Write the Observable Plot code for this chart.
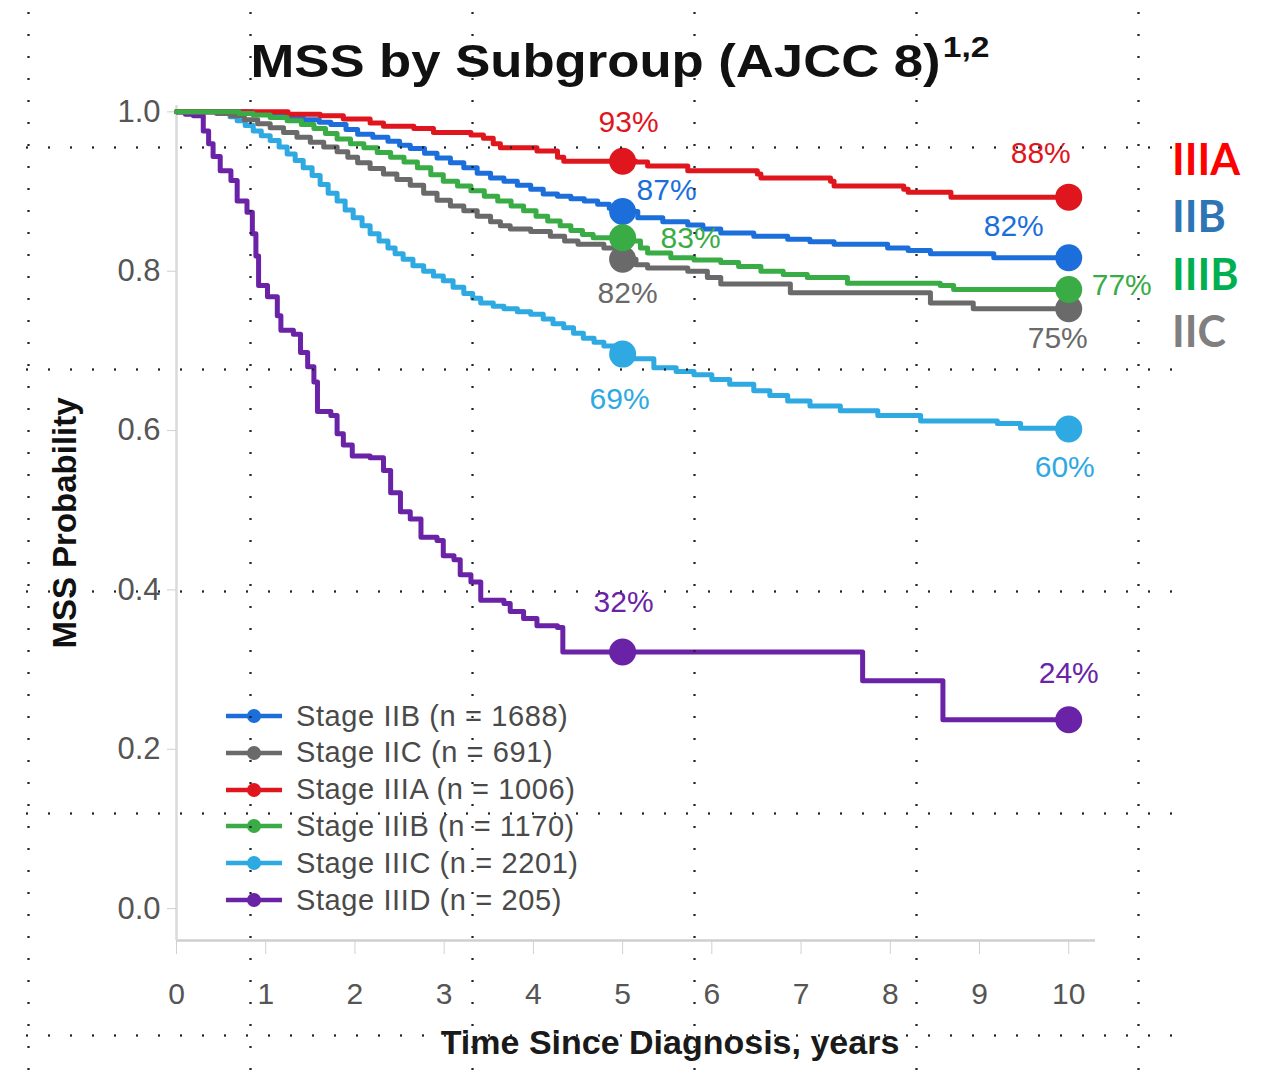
<!DOCTYPE html>
<html>
<head>
<meta charset="utf-8">
<script src="https://cdn.jsdelivr.net/npm/d3@7"></script>
<script src="https://cdn.jsdelivr.net/npm/@observablehq/plot@0.6"></script>
<style>
  html, body { margin: 0; padding: 0; background: #fff; }
  #page { position: relative; width: 1261px; height: 1081px; overflow: hidden; font-family: "Liberation Sans", Arial, Helvetica, sans-serif; }
  #title { position: absolute; left: 0; top: 37px; width: 1240px; text-align: center; font-size: 47px; line-height: 47px; font-weight: bold; color: #111; transform: scaleX(1.12); transform-origin: 620px 0; white-space: nowrap; }
  #title .sup { font-size: 30px; position: relative; top: -20px; margin-left: 2px; }
  #chart { position: absolute; left: 0; top: 95px; }
  #legend { position: absolute; left: 0; top: 0; }
  .lg-row { position: absolute; left: 226px; height: 36px; display: flex; align-items: center; }
  .lg-row span { margin-left: 14px; font-size: 29px; letter-spacing: 0.6px; color: #4a4a4a; white-space: nowrap; }
  .side { position: absolute; left: 1172px; font-family: Lato, "Open Sans", sans-serif; font-weight: 700; font-size: 43px; line-height: 43px; }
  .vgrid { position: absolute; top: 0; width: 3px; height: 1081px; background-image: radial-gradient(circle at center, #222 0.9px, transparent 1.5px); background-size: 3px 22px; background-position: 0 2px; pointer-events: none; }
  .hgrid { position: absolute; left: 16px; width: 1172px; height: 3px; background-image: radial-gradient(circle at center, #222 0.9px, transparent 1.5px); background-size: 22px 3px; background-position: 0 0; pointer-events: none; }
</style>
</head>
<body>
<div id="page">
  <div id="title">MSS by Subgroup (AJCC 8)<span class="sup">1,2</span></div>
  <div id="chart"></div>
  <div id="legend"></div>
  <div id="sidelabels"></div>
  <div id="grid"></div>
</div>
<script>
// ---------------- data ----------------
const stages = ["IIB", "IIC", "IIIA", "IIIB", "IIIC", "IIID"];
const stageN = [1688, 691, 1006, 1170, 2201, 205];
const fiveYearLabels = [87, 82, 93, 83, 69, 32];
const tenYearLabels = [82, 75, 88, 77, 60, 24];
const markTimes = [5, 10];
const xTicks = [0, 1, 2, 3, 4, 5, 6, 7, 8, 9, 10];
const yTicks = [0, 0.2, 0.4, 0.6, 0.8, 1.0];
const sideLabels = ["IIIA", "IIB", "IIIB", "IIC"];

// Kaplan–Meier steps: [years, probability]
const curveIIB = [[0,1],[0.68,1],[0.85,0.998],[1.05,0.996],[1.25,0.993],[1.42,0.99],[1.6,0.987],[1.73,0.984],[1.9,0.978],[2.03,0.972],[2.2,0.968],[2.37,0.963],[2.5,0.958],[2.62,0.954],[2.78,0.948],[2.92,0.942],[3.07,0.936],[3.22,0.93],[3.37,0.923],[3.52,0.917],[3.67,0.913],[3.82,0.908],[3.97,0.903],[4.11,0.897],[4.27,0.894],[4.42,0.891],[4.57,0.888],[4.72,0.884],[4.85,0.879],[4.95,0.875],[5.17,0.867],[5.45,0.862],[5.73,0.858],[5.9,0.853],[6.1,0.848],[6.47,0.844],[6.85,0.84],[7.1,0.837],[7.37,0.834],[7.97,0.829],[8.2,0.826],[8.45,0.822],[9.16,0.817],[10,0.817]];
const curveIIC = [[0,1],[0.3,1],[0.45,0.998],[0.61,0.995],[0.76,0.99],[0.91,0.985],[1.05,0.98],[1.2,0.974],[1.35,0.968],[1.5,0.962],[1.65,0.956],[1.8,0.95],[1.92,0.943],[2.03,0.936],[2.17,0.929],[2.32,0.922],[2.47,0.915],[2.62,0.908],[2.77,0.898],[2.92,0.889],[3.07,0.882],[3.22,0.876],[3.37,0.869],[3.52,0.862],[3.63,0.857],[3.74,0.853],[3.97,0.85],[4.19,0.844],[4.35,0.838],[4.5,0.834],[4.79,0.829],[4.92,0.82],[5.0,0.815],[5.15,0.808],[5.28,0.804],[5.73,0.8],[5.95,0.792],[6.1,0.784],[6.88,0.773],[8.45,0.76],[8.93,0.753],[10,0.753]];
const curveIIIA = [[0,1],[1.22,1],[1.25,0.997],[1.61,0.995],[1.87,0.991],[2.17,0.986],[2.32,0.982],[2.66,0.979],[2.88,0.974],[3.3,0.971],[3.44,0.967],[3.55,0.96],[3.63,0.955],[4.04,0.951],[4.27,0.943],[4.34,0.938],[5.15,0.937],[5.28,0.932],[5.73,0.926],[6.51,0.922],[6.55,0.917],[7.33,0.913],[7.37,0.907],[8.15,0.903],[8.2,0.899],[8.68,0.893],[10,0.893]];
const curveIIIB = [[0,1],[0.49,1],[0.7,0.998],[0.86,0.996],[1.05,0.993],[1.24,0.989],[1.4,0.984],[1.54,0.979],[1.67,0.973],[1.8,0.966],[1.95,0.96],[2.1,0.955],[2.25,0.949],[2.4,0.943],[2.55,0.937],[2.7,0.93],[2.85,0.921],[2.99,0.913],[3.15,0.907],[3.3,0.901],[3.45,0.894],[3.6,0.888],[3.75,0.882],[3.89,0.876],[4.03,0.869],[4.16,0.863],[4.3,0.857],[4.42,0.851],[4.55,0.846],[4.67,0.842],[5.09,0.838],[5.2,0.829],[5.28,0.823],[5.54,0.817],[5.8,0.814],[6.1,0.811],[6.3,0.806],[6.55,0.8],[6.8,0.796],[7.07,0.792],[7.52,0.785],[8.56,0.782],[8.71,0.777],[10,0.777]];
const curveIIIC = [[0,1],[0.49,1],[0.6,0.994],[0.68,0.989],[0.77,0.983],[0.86,0.976],[0.95,0.97],[1.05,0.964],[1.15,0.956],[1.24,0.947],[1.33,0.939],[1.42,0.93],[1.52,0.92],[1.61,0.909],[1.7,0.898],[1.8,0.888],[1.89,0.877],[1.98,0.867],[2.08,0.857],[2.17,0.847],[2.27,0.838],[2.37,0.829],[2.45,0.822],[2.54,0.815],[2.65,0.807],[2.77,0.8],[2.88,0.794],[2.99,0.788],[3.1,0.78],[3.22,0.772],[3.32,0.766],[3.41,0.76],[3.55,0.756],[3.67,0.753],[3.82,0.749],[3.97,0.746],[4.11,0.74],[4.22,0.734],[4.34,0.729],[4.45,0.722],[4.56,0.716],[4.68,0.711],[4.79,0.706],[4.9,0.7],[5.0,0.696],[5.12,0.69],[5.35,0.679],[5.6,0.674],[5.8,0.67],[6.0,0.664],[6.2,0.658],[6.47,0.65],[6.65,0.644],[6.85,0.637],[7.1,0.631],[7.44,0.625],[7.86,0.619],[8.34,0.612],[9.2,0.609],[9.46,0.603],[10,0.602]];
const curveIIID = [[0,1],[0.1,0.997],[0.19,0.995],[0.3,0.976],[0.36,0.96],[0.41,0.944],[0.49,0.926],[0.61,0.914],[0.68,0.888],[0.79,0.874],[0.85,0.847],[0.89,0.819],[0.92,0.782],[1.02,0.768],[1.13,0.744],[1.17,0.726],[1.31,0.721],[1.39,0.698],[1.47,0.68],[1.54,0.661],[1.58,0.624],[1.73,0.619],[1.8,0.596],[1.87,0.582],[1.97,0.568],[2.17,0.566],[2.32,0.55],[2.4,0.522],[2.51,0.498],[2.62,0.489],[2.74,0.466],[2.92,0.462],[2.99,0.443],[3.11,0.438],[3.18,0.419],[3.3,0.41],[3.41,0.387],[3.67,0.383],[3.74,0.373],[3.89,0.364],[4.04,0.355],[4.27,0.353],[4.33,0.322],[7.69,0.286],[8.59,0.237],[10,0.237]];

// ---------------- styles ----------------
const stageColors = ["#1c6fdb", "#6a6a6a", "#e0161e", "#3aac45", "#2ea9e2", "#6a22a6"];
const sideColors = ["#ff0000", "#2e75b6", "#00b050", "#7f7f7f"];
const drawOrder = ["IIID", "IIIC", "IIB", "IIC", "IIIA", "IIIB"];
const labelOffsets = {
  "IIB-5": [44, -21], "IIB-10": [-55, -31],
  "IIC-5": [5, 34], "IIC-10": [-11, 30],
  "IIIA-5": [6, -39], "IIIA-10": [-28, -44],
  "IIIB-5": [68, 1], "IIIB-10": [53, -4],
  "IIIC-5": [-3, 45], "IIIC-10": [-4, 38],
  "IIID-5": [1, -50], "IIID-10": [0, -46]
};
const xDomain = [0, 10.3];
const yDomain = [-0.04, 1.008];

// ---------------- build tables ----------------
const curves = {IIB: curveIIB, IIC: curveIIC, IIIA: curveIIIA, IIIB: curveIIIB, IIIC: curveIIIC, IIID: curveIIID};
const lineData = drawOrder.flatMap(s => curves[s].map(([t, v]) => ({stage: s, t, v})));
function valueAt(s, T) {
  let val = curves[s][0][1];
  for (const [t, v] of curves[s]) if (t <= T) val = v;
  return val;
}
const dotData = drawOrder.flatMap(s => markTimes.map(T => {
  const i = stages.indexOf(s);
  return {stage: s, t: T, v: valueAt(s, T), label: (T === 5 ? fiveYearLabels[i] : tenYearLabels[i]) + "%"};
}));

const valueLabelMarks = dotData.map(d => {
  const [dx, dy] = labelOffsets[d.stage + "-" + d.t];
  return Plot.text([d], {x: "t", y: "v", text: "label", fill: "stage", dx, dy,
    fontSize: 30, lineAnchor: "middle", textAnchor: "middle"});
});

const chart = Plot.plot({
  width: 1261, height: 986,
  marginLeft: 176, marginRight: 166, marginTop: 10, marginBottom: 141,
  style: {fontFamily: '"Liberation Sans", Arial, sans-serif', fontSize: "30px", background: "transparent", overflow: "visible"},
  x: {domain: xDomain},
  y: {domain: yDomain},
  color: {domain: stages, range: stageColors},
  marks: [
    Plot.ruleY([yDomain[0]], {stroke: "#cfcfcf", strokeWidth: 2.5}),
    Plot.ruleX([xDomain[0]], {stroke: "#dadada", strokeWidth: 2.5}),
    Plot.axisX({ticks: xTicks, tickFormat: d3.format("d"), tickSize: 14, tickPadding: 28, stroke: "#d0d0d0", fill: "#555", label: null, fontSize: 30}),
    Plot.axisY({ticks: yTicks, tickFormat: d3.format(".1f"), tickSize: 9, tickPadding: 7, stroke: "#cfcfcf", fill: "#555", label: null, fontSize: 31}),
    Plot.line(lineData, {x: "t", y: "v", z: "stage", stroke: "stage", curve: "step-after", strokeWidth: 5, strokeLinejoin: "round"}),
    Plot.dot(dotData, {x: "t", y: "v", fill: "stage", r: 13.5}),
    ...valueLabelMarks,
    Plot.text(["MSS Probability"], {text: d => d, frameAnchor: "left", dx: -111, rotate: -90, textAnchor: "middle", fontSize: 33, fontWeight: "bold", fill: "#111", lineAnchor: "middle"}),
    Plot.text(["Time Since Diagnosis, years"], {text: d => d, frameAnchor: "bottom", dx: 34, dy: 103, textAnchor: "middle", fontSize: 34, fontWeight: "bold", fill: "#1a1a1a", lineAnchor: "middle"})
  ]
});
document.getElementById("chart").appendChild(chart);

// ---------------- legend (HTML overlay) ----------------
const legend = d3.select("#legend");
stages.forEach((s, i) => {
  const row = legend.append("div").attr("class", "lg-row").style("top", (716 - 18 + i * 36.8) + "px");
  const svg = row.append("svg").attr("width", 56).attr("height", 36);
  svg.append("line").attr("x1", 0).attr("x2", 56).attr("y1", 18).attr("y2", 18).attr("stroke", stageColors[i]).attr("stroke-width", 4.5);
  svg.append("circle").attr("cx", 28).attr("cy", 18).attr("r", 7).attr("fill", stageColors[i]);
  row.append("span").text(`Stage ${s} (n = ${stageN[i]})`);
});

// ---------------- side stage labels ----------------
const sideTops = [137, 194, 252, 309];
const side = d3.select("#sidelabels");
sideLabels.forEach((s, i) => {
  side.append("div").attr("class", "side").style("top", sideTops[i] + "px").style("color", sideColors[i]).text(s);
});

// ---------------- slide guide dots ----------------
const grid = d3.select("#grid");
[28, 250, 472, 694, 916, 1138].forEach(x => grid.append("div").attr("class", "vgrid").style("left", (x - 1) + "px"));
[147, 369, 591, 813, 1035].forEach(y => grid.append("div").attr("class", "hgrid").style("top", (y - 1) + "px"));
</script>
</body>
</html>
